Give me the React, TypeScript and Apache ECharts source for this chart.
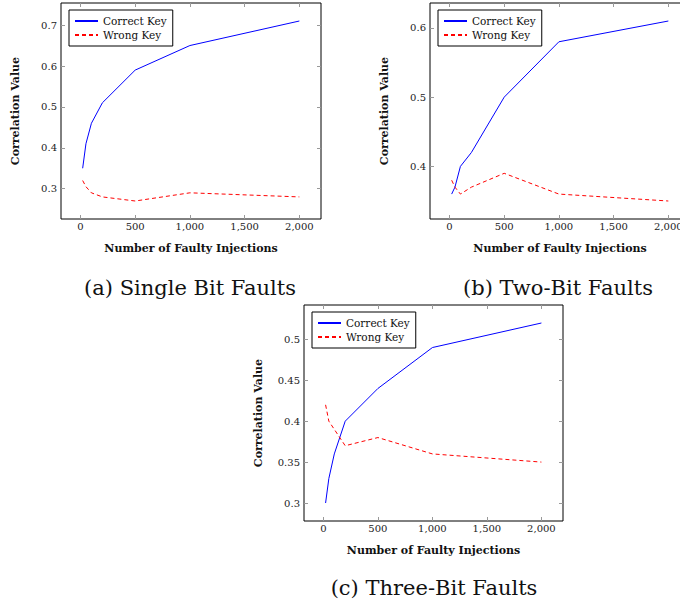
import React, { useEffect, useRef } from "react";
import * as echarts from "echarts";

const X_VALUES = [20, 50, 100, 200, 500, 1000, 2000];

const SINGLE_CORRECT = [0.35, 0.41, 0.46, 0.51, 0.59, 0.65, 0.71];
const SINGLE_WRONG = [0.32, 0.305, 0.29, 0.28, 0.27, 0.29, 0.28];

const TWO_CORRECT = [0.36, 0.37, 0.4, 0.42, 0.5, 0.58, 0.61];
const TWO_WRONG = [0.38, 0.37, 0.36, 0.37, 0.39, 0.36, 0.35];

const THREE_CORRECT = [0.3, 0.33, 0.36, 0.4, 0.44, 0.49, 0.52];
const THREE_WRONG = [0.42, 0.4, 0.39, 0.37, 0.38, 0.36, 0.35];

const X_TICKS = [0, 500, 1000, 1500, 2000];
const Y_TICKS_A = [0.3, 0.4, 0.5, 0.6, 0.7];
const Y_TICKS_B = [0.4, 0.5, 0.6];
const Y_TICKS_C = [0.3, 0.35, 0.4, 0.45, 0.5];

const X_RANGE = [-178, 2198];
const Y_RANGE_A = [0.226, 0.754];
const Y_RANGE_B = [0.324, 0.636];
const Y_RANGE_C = [0.278, 0.542];

const CAPTIONS = ["(a) Single Bit Faults", "(b) Two-Bit Faults", "(c) Three-Bit Faults"];
const SERIES_NAMES = ["Correct Key", "Wrong Key"];
const X_TITLE = "Number of Faulty Injections";
const Y_TITLE = "Correlation Value";

const FONT = "DejaVu Serif";

const grids = [
  { left: 61, top: 3, width: 260, height: 216 },
  { left: 430, top: 3, width: 260, height: 216 },
  { left: 304, top: 305, width: 259, height: 216 },
];

const yRanges = [Y_RANGE_A, Y_RANGE_B, Y_RANGE_C];
const yTicks = [Y_TICKS_A, Y_TICKS_B, Y_TICKS_C];
const dataSets = [
  [SINGLE_CORRECT, SINGLE_WRONG],
  [TWO_CORRECT, TWO_WRONG],
  [THREE_CORRECT, THREE_WRONG],
];

const tickStyle = { show: true, inside: true, length: 4, lineStyle: { color: "#999", width: 1 } };
const noLine = { show: false, onZero: false };

function fmtX(v: number) {
  return Math.round(v).toLocaleString("en-US");
}
function fmtY(v: number) {
  return String(parseFloat(v.toFixed(2)));
}

export default function App() {
  const ref = useRef<HTMLDivElement>(null);
  useEffect(() => {
    if (!ref.current) return;
    const chart = echarts.init(ref.current, null, { renderer: "svg" });

    const xAxis: any[] = [];
    const yAxis: any[] = [];
    const series: any[] = [];
    const legend: any[] = [];
    const graphic: any[] = [];

    grids.forEach((g, i) => {
      xAxis.push({
        type: "value",
        gridIndex: i,
        position: "bottom",
        min: X_RANGE[0],
        max: X_RANGE[1],
        axisLine: noLine,
        splitLine: { show: false },
        axisTick: { ...tickStyle, customValues: X_TICKS },
        axisLabel: {
          customValues: X_TICKS,
          formatter: fmtX,
          margin: 2,
          color: "#222",
          fontFamily: FONT,
          fontSize: 10,
        },
        name: X_TITLE,
        nameLocation: "middle",
        nameGap: 24,
        nameTextStyle: { fontFamily: FONT, fontWeight: "bold", fontSize: 11, color: "#111" },
      });
      xAxis.push({
        type: "value",
        gridIndex: i,
        position: "top",
        min: X_RANGE[0],
        max: X_RANGE[1],
        axisLine: noLine,
        splitLine: { show: false },
        axisTick: { ...tickStyle, customValues: X_TICKS },
        axisLabel: { show: false, customValues: X_TICKS },
      });
      yAxis.push({
        type: "value",
        gridIndex: i,
        position: "left",
        min: yRanges[i][0],
        max: yRanges[i][1],
        axisLine: noLine,
        splitLine: { show: false },
        axisTick: { ...tickStyle, customValues: yTicks[i] },
        axisLabel: {
          customValues: yTicks[i],
          formatter: fmtY,
          margin: 4,
          color: "#222",
          fontFamily: FONT,
          fontSize: 10,
        },
        name: Y_TITLE,
        nameLocation: "middle",
        nameGap: 40,
        nameTextStyle: { fontFamily: FONT, fontWeight: "bold", fontSize: 11, color: "#111" },
      });
      yAxis.push({
        type: "value",
        gridIndex: i,
        position: "right",
        min: yRanges[i][0],
        max: yRanges[i][1],
        axisLine: noLine,
        splitLine: { show: false },
        axisTick: { ...tickStyle, customValues: yTicks[i] },
        axisLabel: { show: false, customValues: yTicks[i] },
      });

      const [correct, wrong] = dataSets[i];
      series.push({
        type: "line",
        name: SERIES_NAMES[0],
        xAxisIndex: 2 * i,
        yAxisIndex: 2 * i,
        data: X_VALUES.map((x, k) => [x, correct[k]]),
        symbol: "none",
        showSymbol: false,
        lineStyle: { color: "#0000ff", width: 1 },
        itemStyle: { color: "#0000ff" },
      });
      series.push({
        type: "line",
        name: SERIES_NAMES[1],
        xAxisIndex: 2 * i,
        yAxisIndex: 2 * i,
        data: X_VALUES.map((x, k) => [x, wrong[k]]),
        symbol: "none",
        showSymbol: false,
        lineStyle: { color: "#ff0000", width: 1, type: [4, 3] },
        itemStyle: { color: "#ff0000" },
      });

      legend.push({
        data: SERIES_NAMES,
        orient: "vertical",
        left: g.left + 8,
        top: g.top + 7,
        selectedMode: false,
        backgroundColor: "#fff",
        borderColor: "#000",
        borderWidth: 1,
        borderRadius: 0,
        padding: [4, 6, 4, 5],
        itemWidth: 23,
        itemHeight: 10,
        itemGap: 0,
        itemStyle: { opacity: 0 },
        textStyle: { fontFamily: FONT, fontSize: 10.5, color: "#111", lineHeight: 14 },
      });
    });

    const captionPos = [
      { x: 190, y: 288 },
      { x: 558, y: 288 },
      { x: 434, y: 588 },
    ];
    CAPTIONS.forEach((c, i) => {
      graphic.push({
        type: "text",
        x: captionPos[i].x,
        y: captionPos[i].y,
        style: {
          text: c,
          fontFamily: FONT,
          fontSize: 21,
          fill: "#111",
          align: "center",
          verticalAlign: "middle",
        },
      });
    });

    chart.setOption({
      animation: false,
      backgroundColor: "#fff",
      grid: grids.map((g) => ({
        ...g,
        show: true,
        borderColor: "#000",
        borderWidth: 1,
        backgroundColor: "transparent",
        containLabel: false,
        outerBoundsMode: "none",
      })),
      xAxis,
      yAxis,
      series,
      legend,
      graphic,
    });

    return () => chart.dispose();
  }, []);

  return (
    <div
      ref={ref}
      style={{ position: "fixed", left: 0, top: 0, width: 680, height: 608 }}
    />
  );
}
